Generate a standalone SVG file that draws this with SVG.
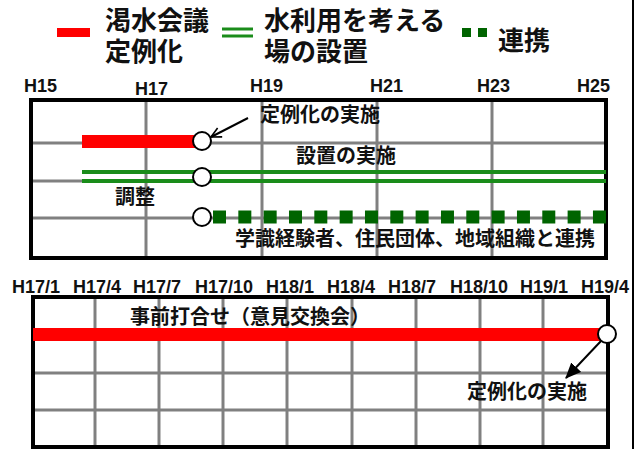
<svg xmlns="http://www.w3.org/2000/svg" width="639" height="449" viewBox="0 0 639 449">
  <style>
    .jp { font-family: "Noto Sans CJK JP", "Noto Sans", sans-serif; font-weight: bold; fill: #111; }
    .leg { font-family: "Liberation Sans", "Noto Sans CJK JP", sans-serif; font-size: 26px; }
    .lbl { font-size: 20px; }
    .ax { font-family: "Liberation Sans", Arial, sans-serif; font-weight: bold; font-size: 18px; fill: #111; }
    .grid { stroke: #808080; stroke-width: 3; }
    .frame { fill: none; stroke: #000; stroke-width: 4; }
    .node { fill: #fff; stroke: #000; stroke-width: 2; }
  </style>
  <defs>
    <marker id="open" viewBox="0 0 12 12" refX="11" refY="6" markerWidth="12" markerHeight="12" markerUnits="userSpaceOnUse" orient="auto">
      <path d="M1,1 L11,6 L1,11" fill="none" stroke="#000" stroke-width="1.6"/>
    </marker>
    <marker id="solid" viewBox="0 0 14 12" refX="13" refY="6" markerWidth="16" markerHeight="14" markerUnits="userSpaceOnUse" orient="auto">
      <path d="M0,0 L14,6 L0,12 Z" fill="#000"/>
    </marker>
  </defs>
  <rect width="639" height="449" fill="#fff"/>
  <line x1="633" y1="0" x2="633" y2="449" stroke="#000" stroke-width="2"/>

  <g id="legend">
    <rect x="57" y="28" width="33" height="9" fill="#ff0000"/>
    <text class="jp leg"><tspan x="105" y="30">渇水会議</tspan><tspan x="105" y="61">定例化</tspan></text>
    <line x1="222" y1="29" x2="253" y2="29" stroke="#1a8c1a" stroke-width="3"/>
    <line x1="222" y1="36" x2="253" y2="36" stroke="#1a8c1a" stroke-width="3"/>
    <text class="jp leg"><tspan x="264" y="30">水利用を考える</tspan><tspan x="264" y="61">場の設置</tspan></text>
    <rect x="462" y="28" width="9" height="9" fill="#006400"/>
    <rect x="478" y="28" width="9" height="9" fill="#006400"/>
    <text class="jp leg" x="498" y="50">連携</text>
  </g>

  <g id="axis-top">
    <text class="ax" x="24" y="92">H15</text>
    <text class="ax" x="135" y="95">H17</text>
    <text class="ax" x="250" y="92">H19</text>
    <text class="ax" x="370" y="92">H21</text>
    <text class="ax" x="477" y="92">H23</text>
    <text class="ax" x="577" y="92">H25</text>
  </g>

  <g id="panel-top">
    <rect x="31" y="100" width="575" height="158" fill="#fff"/>
    <g class="grid">
      <line x1="146" y1="100" x2="146" y2="258"/>
      <line x1="262" y1="100" x2="262" y2="258"/>
      <line x1="377" y1="100" x2="377" y2="258"/>
      <line x1="492" y1="100" x2="492" y2="258"/>
      <line x1="31" y1="143" x2="606" y2="143"/>
      <line x1="31" y1="181" x2="606" y2="181"/>
      <line x1="31" y1="218" x2="606" y2="218"/>
    </g>
    <rect class="frame" x="31" y="100" width="575" height="158"/>
  </g>

  <g id="bar-drought">
    <rect x="82" y="135" width="120" height="13" fill="#ff0000"/>
  </g>
  <g id="bar-water">
    <line x1="82" y1="172" x2="606" y2="172" stroke="#1a8c1a" stroke-width="4"/>
    <line x1="82" y1="181" x2="606" y2="181" stroke="#1a8c1a" stroke-width="4"/>
  </g>
  <g id="bar-link">
    <line x1="213" y1="217" x2="606" y2="217" stroke="#006400" stroke-width="13" stroke-dasharray="13 12.33"/>
  </g>

  <g id="node-teirei">
    <circle class="node" cx="202" cy="141" r="9"/>
  </g>
  <g id="node-setti">
    <circle class="node" cx="202" cy="177" r="9"/>
  </g>
  <g id="node-renkei">
    <circle class="node" cx="202" cy="217" r="9"/>
  </g>

  <g id="labels-top">
    <text class="jp lbl" x="260" y="122">定例化の実施</text>
    <text class="jp lbl" x="296" y="163">設置の実施</text>
    <text class="jp lbl" x="115" y="204">調整</text>
    <text class="jp lbl" x="235" y="246">学識経験者、住民団体、地域組織と連携</text>
  </g>

  <g id="axis-bottom">
    <text class="ax" x="12" y="293">H17/1</text>
    <text class="ax" x="73" y="293">H17/4</text>
    <text class="ax" x="133" y="293">H17/7</text>
    <text class="ax" x="195" y="293">H17/10</text>
    <text class="ax" x="266" y="293">H18/1</text>
    <text class="ax" x="327" y="293">H18/4</text>
    <text class="ax" x="388" y="293">H18/7</text>
    <text class="ax" x="450" y="293">H18/10</text>
    <text class="ax" x="520" y="293">H19/1</text>
    <text class="ax" x="581" y="293">H19/4</text>
  </g>

  <g id="panel-bottom">
    <rect x="33" y="297" width="575" height="150" fill="#fff"/>
    <g class="grid">
      <line x1="95" y1="297" x2="95" y2="447"/>
      <line x1="159" y1="297" x2="159" y2="447"/>
      <line x1="223" y1="297" x2="223" y2="447"/>
      <line x1="287" y1="297" x2="287" y2="447"/>
      <line x1="352" y1="297" x2="352" y2="447"/>
      <line x1="416" y1="297" x2="416" y2="447"/>
      <line x1="480" y1="297" x2="480" y2="447"/>
      <line x1="543" y1="297" x2="543" y2="447"/>
      <line x1="33" y1="335" x2="608" y2="335"/>
      <line x1="33" y1="373" x2="608" y2="373"/>
      <line x1="33" y1="410" x2="608" y2="410"/>
    </g>
    <rect class="frame" x="33" y="297" width="575" height="150"/>
  </g>

  <g id="bar-meeting">
    <rect x="33" y="328" width="575" height="13" fill="#ff0000"/>
  </g>
  <g id="node-teirei-2">
    <circle class="node" cx="607" cy="334" r="9"/>
  </g>

  <g id="labels-bottom">
    <text class="jp lbl" x="130" y="324">事前打合せ（意見交換会）</text>
    <text class="jp lbl" x="467" y="399">定例化の実施</text>
  </g>

  <g id="connectors">
    <line x1="248" y1="118" x2="211" y2="137" stroke="#000" stroke-width="2" marker-end="url(#open)"/>
    <line x1="601" y1="341" x2="566" y2="378" stroke="#000" stroke-width="2" marker-end="url(#solid)"/>
  </g>
</svg>
